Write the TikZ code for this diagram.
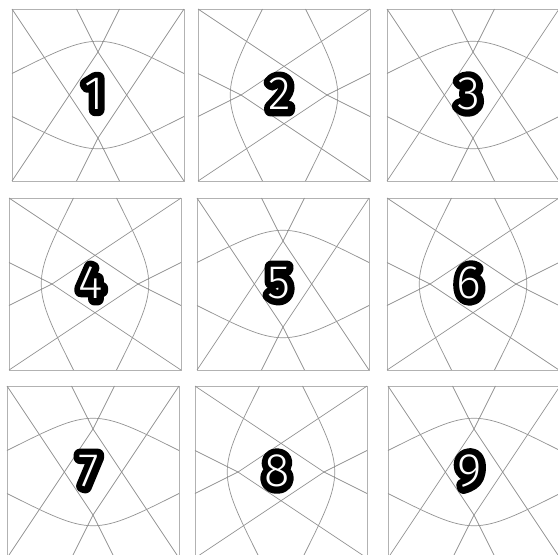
\documentclass[tikz,border=0pt]{standalone}
\usepackage{fontspec}
\usepackage{tikz}
\newfontfamily\digitfont{Fira Sans Light}
\newfontfamily\digitfat{Fira Sans Light}[FakeBold=28]

\tikzset{
    hblock/.style={x=172pt, y=-172pt},
    vblock/.style={x={(0pt,-172pt)}, y={(172pt,0pt)}},
    frame/.style={draw=gray!60, line width=1pt},
    web/.style={draw=gray!85, line width=0.7pt},
    digit/.style={font=\digitfont\fontsize{47}{47}\selectfont, text=white,
        inner sep=0pt, xshift=-4pt, yshift=1pt},
    digitback/.style={digit, font=\digitfat\fontsize{47}{47}\selectfont, text=black}
}

% one block: frame, star lines and the two arcs
\newcommand{\blocklines}{%
    \draw[frame] (0,0) rectangle (1,1);
    \draw[web] (0.375,0) -- (0.5,0.25) -- (1,1);
    \draw[web] (0.625,0) -- (0.5,0.25) -- (0,1);
    \draw[web] (0.375,1) -- (0.5,0.75) -- (1,0);
    \draw[web] (0.625,1) -- (0.5,0.75) -- (0,0);
    \draw[web] (0,0.375) .. controls (0.5,0.125) .. (1,0.375);
    \draw[web] (0,0.625) .. controls (0.5,0.875) .. (1,0.625);
}
% outlined number in the middle of a block (round joins for the thick outline)
\newcommand{\blocknum}[1]{%
    \node[digitback] (b#1) at (0.5,0.5) {\special{pdf:literal direct 1 j 1 J}#1};
    \node[digit] (n#1) at (0.5,0.5) {#1};
}

\begin{document}
\begin{tikzpicture}[x=1pt, y=-1pt]
    \useasboundingbox (0,0) rectangle (558,555);
    \fill[white] (0,0) rectangle (558,555);
    \clip (0,0) rectangle (558,555);

    % top row
    \begin{scope}[shift={(12,9)}, hblock]
        \blocklines
        \blocknum{1}
    \end{scope}
    \begin{scope}[shift={(198,9)}, vblock]
        \blocklines
        \blocknum{2}
    \end{scope}
    \begin{scope}[shift={(387,9)}, hblock]
        \blocklines
        \blocknum{3}
    \end{scope}

    % middle row
    \begin{scope}[shift={(9,198)}, vblock]
        \blocklines
        \blocknum{4}
    \end{scope}
    \begin{scope}[shift={(197,198)}, hblock]
        \blocklines
        \blocknum{5}
    \end{scope}
    \begin{scope}[shift={(387,198)}, vblock]
        \blocklines
        \blocknum{6}
    \end{scope}

    % bottom row
    \begin{scope}[shift={(7,386)}, hblock]
        \blocklines
        \blocknum{7}
    \end{scope}
    \begin{scope}[shift={(195,386)}, vblock]
        \blocklines
        \blocknum{8}
    \end{scope}
    \begin{scope}[shift={(388,386)}, hblock]
        \blocklines
        \blocknum{9}
    \end{scope}
\end{tikzpicture}
\end{document}
